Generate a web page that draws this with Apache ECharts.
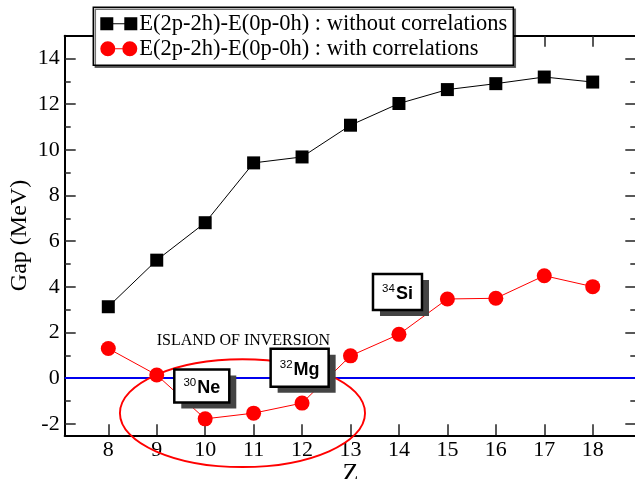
<!DOCTYPE html>
<html>
<head>
<meta charset="utf-8">
<script src="https://cdn.jsdelivr.net/npm/echarts@6/dist/echarts.min.js"></script>
<style>
  html, body { margin: 0; padding: 0; background: #fff; }
  #chart { width: 635px; height: 479px; }
</style>
</head>
<body>
<div id="chart"></div>
<script>
// Proton number Z and the 2p-2h minus 0p-0h energy gap (MeV)
const Z = [8, 9, 10, 11, 12, 13, 14, 15, 16, 17, 18];
const gapNoCorr = [3.13, 5.17, 6.81, 9.43, 9.69, 11.08, 12.03, 12.64, 12.90, 13.19, 12.97];
const gapCorr = [1.30, 0.14, -1.78, -1.53, -1.09, 0.98, 1.92, 3.47, 3.50, 4.49, 4.01];
const seriesNames = [
  'E(2p-2h)-E(0p-0h) : without correlations',
  'E(2p-2h)-E(0p-0h) : with correlations'
];
const zTicks = [8, 9, 10, 11, 12, 13, 14, 15, 16, 17, 18];
const gapTicks = [-2, 0, 2, 4, 6, 8, 10, 12, 14];
const gapMinorTicks = [-1, 1, 3, 5, 7, 9, 11, 13];
const nuclei = [
  { mass: '30', el: 'Ne' },
  { mass: '32', el: 'Mg' },
  { mass: '34', el: 'Si' }
];
const islandLabel = 'ISLAND OF INVERSION';

const SERIF = 'Liberation Serif, Times New Roman, serif';
const SANS = 'Liberation Sans, Arial, sans-serif';
const X_MIN = 7.1, X_MAX = 18.9, Y_MIN = -2.5, Y_MAX = 15;

function tickAxis(extra) {
  return Object.assign({
    type: 'value',
    splitLine: { show: false },
    axisLine: { show: false },
    axisLabel: { show: false },
    axisTick: { show: false }
  }, extra);
}

const frameLine = { show: true, onZero: false, lineStyle: { color: '#000', width: 2 } };
const tickStyle = { color: '#222', width: 1.5 };

const chart = echarts.init(document.getElementById('chart'), null, { renderer: 'canvas' });

chart.setOption({
  animation: false,
  backgroundColor: '#fff',
  grid: {
    left: 64.7, top: 35.7, right: -1.3, bottom: 43.7,
    containLabel: false, outerBoundsMode: 'none'
  },
  legend: {
    orient: 'vertical',
    left: 93.3,
    top: 7.3,
    padding: [5, 6, 5, 7],
    itemGap: 2,
    itemWidth: 37,
    itemHeight: 15,
    backgroundColor: '#fff',
    borderColor: '#000',
    borderWidth: 1.5,
    borderRadius: 0,
    shadowColor: 'rgba(0,0,0,0.55)',
    shadowOffsetX: 2,
    shadowOffsetY: 2,
    shadowBlur: 0,
    itemStyle: { borderWidth: 0 },
    textStyle: { fontFamily: SERIF, fontSize: 22.5, color: '#000', padding: [0, 0, 0, -3] },
    data: [
      { name: seriesNames[0], icon: 'path://M0,1H13V14H0Z M13,7H24V8H13Z M24,1H37V14H24Z' },
      { name: seriesNames[1], icon: 'path://M0,7.5A7.5,7.5 0 1 1 15,7.5A7.5,7.5 0 1 1 0,7.5Z M15,7H22V8H15Z M22,7.5A7.5,7.5 0 1 1 37,7.5A7.5,7.5 0 1 1 22,7.5Z' }
    ]
  },
  xAxis: [
    {
      type: 'value', position: 'bottom', min: X_MIN, max: X_MAX,
      name: 'Z', nameLocation: 'middle', nameGap: 26, nameMoveOverlap: false,
      nameTextStyle: { fontFamily: SERIF, fontSize: 26, color: '#000' },
      splitLine: { show: false },
      axisLine: frameLine,
      axisTick: { show: true, inside: true, length: 11, lineStyle: tickStyle, customValues: zTicks },
      axisLabel: { show: true, margin: 4, fontFamily: SERIF, fontSize: 22, color: '#000', customValues: zTicks }
    },
    tickAxis({
      position: 'top', min: X_MIN, max: X_MAX,
      axisLine: frameLine,
      axisTick: { show: true, inside: true, length: 11, lineStyle: tickStyle, customValues: zTicks }
    })
  ],
  yAxis: [
    {
      type: 'value', position: 'left', min: Y_MIN, max: Y_MAX,
      name: 'Gap (MeV)', nameLocation: 'middle', nameGap: 33, nameRotate: 90, nameMoveOverlap: false,
      nameTextStyle: { fontFamily: SERIF, fontSize: 24, color: '#000' },
      splitLine: { show: false },
      axisLine: frameLine,
      axisTick: { show: true, inside: true, length: 11, lineStyle: tickStyle, customValues: gapTicks },
      axisLabel: { show: true, margin: 5, fontFamily: SERIF, fontSize: 22, color: '#000', customValues: gapTicks }
    },
    tickAxis({
      position: 'left', min: Y_MIN, max: Y_MAX,
      axisTick: { show: true, inside: true, length: 6, lineStyle: tickStyle, customValues: gapMinorTicks }
    }),
    tickAxis({
      position: 'right', min: Y_MIN, max: Y_MAX,
      axisLine: frameLine,
      axisTick: { show: true, inside: true, length: 11, lineStyle: tickStyle, customValues: gapTicks }
    }),
    tickAxis({
      position: 'right', min: Y_MIN, max: Y_MAX,
      axisTick: { show: true, inside: true, length: 6, lineStyle: tickStyle, customValues: gapMinorTicks }
    })
  ],
  series: [
    {
      name: seriesNames[0],
      type: 'line',
      xAxisIndex: 0, yAxisIndex: 0,
      data: Z.map((z, i) => [z, gapNoCorr[i]]),
      symbol: 'rect', symbolSize: 13,
      itemStyle: { color: '#000', borderWidth: 0 },
      lineStyle: { color: '#000', width: 1 },
      z: 3
    },
    {
      name: seriesNames[1],
      type: 'line',
      xAxisIndex: 0, yAxisIndex: 0,
      data: Z.map((z, i) => [z, gapCorr[i]]),
      symbol: 'circle', symbolSize: 15,
      itemStyle: { color: '#ff0000', borderWidth: 0 },
      lineStyle: { color: '#ff0000', width: 1 },
      markLine: {
        silent: true,
        symbol: 'none',
        label: { show: false },
        lineStyle: { color: '#0000ee', width: 2, type: 'solid' },
        data: [{ yAxis: 0 }],
        z: 1
      },
      z: 3
    }
  ]
});

// Annotations placed in data units, converted to pixels through the grid
const toPx = (p) => chart.convertToPixel({ gridIndex: 0 }, p);

const boxSpots = [
  { at: [9.93, -0.34], w: 55, h: 33 },
  { at: [11.95, 0.46], w: 58, h: 38 },
  { at: [13.97, 3.78], w: 49, h: 36 }
];

const graphics = [];

// island ellipse
const ec = toPx([10.77, -1.53]);
const ex = toPx([10.77 + 2.53, -1.53]);
const ey = toPx([10.77, -1.53 + 2.36]);
graphics.push({
  type: 'ellipse',
  shape: { cx: ec[0], cy: ec[1], rx: ex[0] - ec[0], ry: ec[1] - ey[1] },
  style: { fill: 'none', stroke: '#ff0000', lineWidth: 1.9 },
  z: 10
});

// island caption
const ic = toPx([10.79, 1.65]);
graphics.push({
  type: 'text',
  x: ic[0], y: ic[1],
  style: {
    text: islandLabel, fontFamily: SERIF, fontSize: 16, fill: '#000',
    align: 'center', verticalAlign: 'middle'
  },
  z: 11
});

// nucleus labels in shadowed boxes
nuclei.forEach((n, i) => {
  const s = boxSpots[i];
  const c = toPx(s.at);
  const x0 = c[0] - s.w / 2, y0 = c[1] - s.h / 2;
  graphics.push({
    type: 'rect',
    shape: { x: x0 + 7, y: y0 + 6, width: s.w, height: s.h },
    style: { fill: '#444' },
    z: 12
  });
  graphics.push({
    type: 'rect',
    shape: { x: x0, y: y0, width: s.w, height: s.h },
    style: { fill: '#fff', stroke: '#000', lineWidth: 2.5 },
    z: 13
  });
  graphics.push({
    type: 'text',
    x: c[0], y: c[1] + 1,
    style: {
      text: '{m|' + n.mass + '}{e|' + n.el + '}',
      align: 'center', verticalAlign: 'middle',
      rich: {
        m: { fontFamily: SANS, fontSize: 11.5, fill: '#000', verticalAlign: 'top', lineHeight: 20, padding: [0, 1, 0, 0] },
        e: { fontFamily: SANS, fontSize: 18, fontWeight: 'bold', fill: '#000', verticalAlign: 'bottom', lineHeight: 20 }
      }
    },
    z: 14
  });
});

chart.setOption({ graphic: graphics });
</script>
</body>
</html>
